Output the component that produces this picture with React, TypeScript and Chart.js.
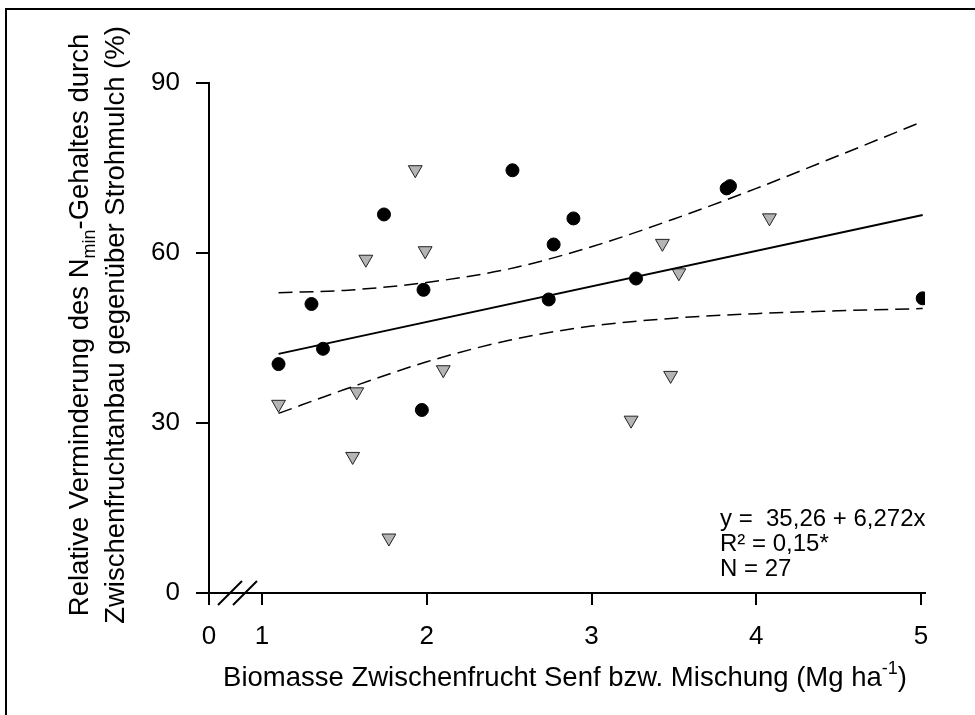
import React, { useEffect, useRef } from "react";
import { Chart, registerables } from "chart.js";

Chart.register(...registerables);

// Mustard / mixture cover crop (black circles)
const circleX = [1.10, 1.30, 1.37, 1.74, 1.98, 1.97, 2.52, 2.74, 2.77, 2.89, 3.27, 3.82, 3.84, 5.01];
const circleY = [40.4, 51.0, 43.1, 66.8, 53.5, 32.3, 74.6, 51.8, 61.5, 66.1, 55.5, 71.4, 71.8, 52.0];
// second group (grey triangles)
const triX = [1.10, 1.55, 1.575, 1.63, 1.77, 1.93, 1.99, 2.10, 3.24, 3.43, 3.48, 3.53, 4.08];
const triY = [33.3, 24.1, 35.5, 58.9, 9.7, 74.7, 60.4, 39.4, 30.5, 61.7, 38.4, 56.5, 66.2];
// regression line
const fitX = [1.1, 5.01];
const fitY = [42.2, 66.7];
// confidence band
const bandX = [1.1, 1.5, 2.0, 2.5, 3.0, 3.5, 4.0, 4.5, 5.01];
const upperY = [53.0, 53.4, 54.8, 57.2, 61.1, 66.0, 71.4, 77.2, 83.2];
const lowerY = [31.7, 35.9, 40.8, 44.6, 47.1, 48.5, 49.3, 49.8, 50.2];
// ticks
const xTickValues = [1, 2, 3, 4, 5];
const yTickValues = [0, 30, 60, 90];
const equationLines = ["y =  35,26 + 6,272x", "R² = 0,15*", "N = 27"];

const X_MIN = 0.678;
const X_MAX = 5.024;
const FONT = "'Liberation Sans', Arial, Helvetica, sans-serif";

const zip = (xs: number[], ys: number[]) => xs.map((x, i) => ({ x, y: ys[i] }));

type Seg = { t: string; m?: "sub" | "sup" };

function drawRich(ctx: CanvasRenderingContext2D, segs: Seg[], cx: number, y: number, size: number) {
  const small = Math.round(size * 0.65);
  const widths = segs.map((s) => {
    ctx.font = `${s.m ? small : size}px ${FONT}`;
    return ctx.measureText(s.t).width;
  });
  const total = widths.reduce((a, b) => a + b, 0);
  let x = cx - total / 2;
  segs.forEach((s, i) => {
    ctx.font = `${s.m ? small : size}px ${FONT}`;
    const dy = s.m === "sub" ? size * 0.25 : s.m === "sup" ? -size * 0.42 : 0;
    ctx.fillText(s.t, x, y + dy);
    x += widths[i];
  });
}

const decorPlugin = {
  id: "decor",
  afterDraw(chart: any) {
    const ctx: CanvasRenderingContext2D = chart.ctx;
    const { left, right, bottom } = chart.chartArea;
    ctx.save();
    ctx.fillStyle = "#000";
    ctx.strokeStyle = "#000";
    // outer frame (left + top)
    ctx.lineWidth = 2;
    ctx.beginPath();
    ctx.moveTo(6, chart.height);
    ctx.lineTo(6, 9);
    ctx.lineTo(chart.width, 9);
    ctx.stroke();
    // axis break marks
    [21, 36].forEach((off) => {
      const cx = left + off;
      ctx.beginPath();
      ctx.moveTo(cx - 12, bottom + 12);
      ctx.lineTo(cx + 12, bottom - 12);
      ctx.stroke();
    });
    // y title
    ctx.textAlign = "left";
    ctx.textBaseline = "alphabetic";
    const cy = 325;
    const TS = 27.5;
    ctx.save();
    ctx.translate(88, cy);
    ctx.rotate(-Math.PI / 2);
    drawRich(ctx, [{ t: "Relative Verminderung des N" }, { t: "min", m: "sub" }, { t: "-Gehaltes durch" }], 0, 0, TS);
    ctx.restore();
    ctx.save();
    ctx.translate(124, cy);
    ctx.rotate(-Math.PI / 2);
    drawRich(ctx, [{ t: "Zwischenfruchtanbau gegenüber Strohmulch (%)" }], 0, 0, TS);
    ctx.restore();
    // x title
    drawRich(
      ctx,
      [{ t: "Biomasse Zwischenfrucht Senf bzw. Mischung (Mg ha" }, { t: "-1", m: "sup" }, { t: ")" }],
      (left + right) / 2 - 2,
      686,
      TS
    );
    // equation
    ctx.font = `24px ${FONT}`;
    equationLines.forEach((l, i) => {
      ctx.fillText(l, right - 205, bottom - 67 + i * 25);
    });
    ctx.restore();
  },
};

export default function App() {
  const ref = useRef<HTMLCanvasElement>(null);
  useEffect(() => {
    if (!ref.current) return;
    const chart = new Chart(ref.current, {
      type: "scatter",
      data: {
        datasets: [
          {
            label: "band upper",
            data: zip(bandX, upperY),
            showLine: true,
            borderColor: "#000",
            borderWidth: 1.5,
            borderDash: [14, 7],
            pointRadius: 0,
            tension: 0.4,
            cubicInterpolationMode: "monotone",
          },
          {
            label: "band lower",
            data: zip(bandX, lowerY),
            showLine: true,
            borderColor: "#000",
            borderWidth: 1.5,
            borderDash: [14, 7],
            pointRadius: 0,
            tension: 0.4,
            cubicInterpolationMode: "monotone",
          },
          {
            label: "fit",
            data: zip(fitX, fitY),
            showLine: true,
            borderColor: "#000",
            borderWidth: 2,
            pointRadius: 0,
          },
          {
            label: "triangles",
            data: zip(triX, triY),
            pointStyle: "triangle",
            rotation: 180,
            pointRadius: 8,
            backgroundColor: "#b4b4b4",
            borderColor: "#222",
            borderWidth: 1,
          },
          {
            label: "circles",
            data: zip(circleX, circleY),
            pointStyle: "circle",
            pointRadius: 6.5,
            backgroundColor: "#000",
            borderColor: "#000",
            borderWidth: 1,
          },
        ],
      },
      options: {
        animation: false,
        responsive: false,
        devicePixelRatio: 1,
        layout: { padding: { left: 0, top: 83, right: 50, bottom: 0 } },
        plugins: { legend: { display: false }, tooltip: { enabled: false } },
        scales: {
          x: {
            type: "linear",
            min: X_MIN,
            max: X_MAX,
            afterFit: (s: any) => {
              s.height = 122;
            },
            afterBuildTicks: (s: any) => {
              s.ticks = [{ value: X_MIN }, ...xTickValues.map((v) => ({ value: v }))];
            },
            ticks: {
              autoSkip: false,
              maxRotation: 0,
              color: "#000",
              padding: 16,
              font: { family: FONT, size: 26 },
              callback: (v: any) => (Number(v) < 1 ? "0" : String(v)),
            },
            grid: { drawOnChartArea: false, drawTicks: true, tickLength: 12, color: "#000", lineWidth: 2 },
            border: { display: true, color: "#000", width: 2 },
          },
          y: {
            type: "linear",
            min: 0,
            max: 90,
            afterFit: (s: any) => {
              s.width = 209;
            },
            afterBuildTicks: (s: any) => {
              s.ticks = yTickValues.map((v) => ({ value: v }));
            },
            ticks: {
              color: "#000",
              padding: 16,
              font: { family: FONT, size: 26 },
            },
            grid: { drawOnChartArea: false, drawTicks: true, tickLength: 13, color: "#000", lineWidth: 2 },
            border: { display: true, color: "#000", width: 2 },
          },
        },
      },
      plugins: [decorPlugin],
    } as any);
    return () => chart.destroy();
  }, []);
  return (
    <div style={{ position: "fixed", left: 0, top: 0, width: 975, height: 715, background: "#fff" }}>
      <canvas ref={ref} width={975} height={715} style={{ display: "block" }} />
    </div>
  );
}
